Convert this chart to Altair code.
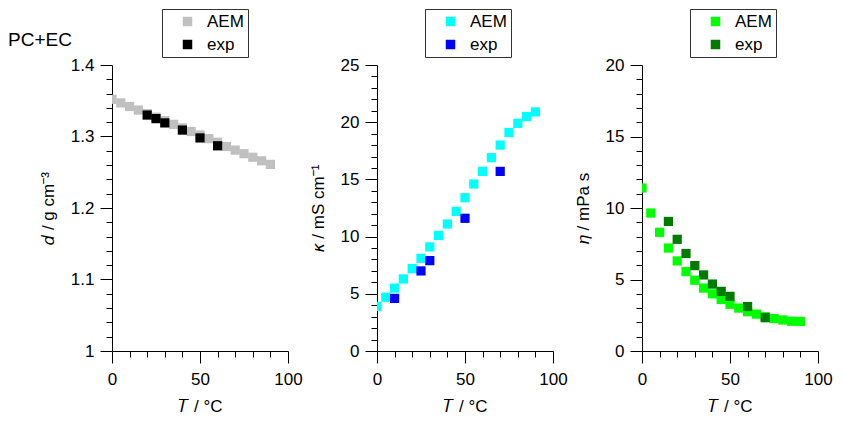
import altair as alt
import pandas as pd

# ---------------- data ----------------
T_aem = [0, 5, 10, 15, 20, 25, 30, 35, 40, 45, 50, 55, 60, 65, 70, 75, 80, 85, 90]
d_aem = [1.352, 1.347, 1.342, 1.337, 1.332, 1.327, 1.322, 1.317, 1.312, 1.307,
         1.302, 1.297, 1.292, 1.286, 1.281, 1.276, 1.271, 1.266, 1.261]
T_d_exp = [20, 25, 30, 40, 50, 60]
d_exp = [1.330, 1.325, 1.319, 1.309, 1.298, 1.287]

k_aem = [3.9, 4.7, 5.5, 6.3, 7.2, 8.1, 9.1, 10.1, 11.1, 12.2,
         13.4, 14.6, 15.7, 16.9, 18.0, 19.1, 19.9, 20.5, 20.9]
T_k_exp = [10, 25, 30, 50, 70]
k_exp = [4.6, 7.0, 7.9, 11.6, 15.7]

eta_aem = [11.4, 9.65, 8.3, 7.2, 6.3, 5.55, 4.95, 4.4, 4.0, 3.6,
           3.27, 3.0, 2.75, 2.58, 2.4, 2.27, 2.17, 2.08, 2.07]
T_eta_exp = [15, 20, 25, 30, 35, 40, 45, 50, 60, 70]
eta_exp = [9.06, 7.81, 6.82, 5.97, 5.32, 4.68, 4.17, 3.82, 3.11, 2.33]

series = ["AEM", "exp"]
x_ticks = [0, 10, 20, 30, 40, 50, 60, 70, 80, 90, 100]
d_ticks = [1.0, 1.02, 1.04, 1.06, 1.08, 1.1, 1.12, 1.14, 1.16, 1.18, 1.2,
           1.22, 1.24, 1.26, 1.28, 1.3, 1.32, 1.34, 1.36, 1.38, 1.4]
k_ticks = list(range(0, 26))
eta_ticks = list(range(0, 21))

FONT = "Liberation Sans"
W, H = 176, 286


def frame(T1, v1, T2, v2):
    return pd.DataFrame({
        "T": list(T1) + list(T2),
        "v": list(v1) + list(v2),
        "s": [series[0]] * len(T1) + [series[1]] * len(T2),
    })


x_axis = alt.Axis(
    values=x_ticks,
    labelExpr="datum.value % 50 === 0 ? datum.label : ''",
    tickSize={"condition": {"test": "datum.value % 50 === 0", "value": 12}, "value": 6},
    labelFlush=False, labelOverlap=False, grid=False,
    title="𝑇 / °C", labelPadding=8, titlePadding=11,
)


def panel(df, domain, ticks, major_test, label_fmt, ytitle, colors, legx, tpad):
    y_axis = alt.Axis(
        values=ticks,
        labelExpr=f"({major_test}) ? format(datum.value, '{label_fmt}') : ''",
        tickSize={"condition": {"test": major_test, "value": 12}, "value": 6},
        labelOverlap=False, grid=False, title=ytitle,
        labelPadding=6, titlePadding=tpad,
    )
    return alt.Chart(df).mark_square(size=85, opacity=1, clip=True).encode(
        x=alt.X("T:Q", scale=alt.Scale(domain=[0, 100], nice=False), axis=x_axis),
        y=alt.Y("v:Q", scale=alt.Scale(domain=domain, nice=False, zero=False), axis=y_axis),
        color=alt.Color(
            "s:N",
            scale=alt.Scale(domain=series, range=colors),
            legend=alt.Legend(
                orient="none", legendX=legx, legendY=-56, title=None,
                direction="vertical",
                strokeColor="#333333", fillColor="white", padding=4,
                symbolType="square", symbolSize=90, symbolOpacity=1,
                symbolStrokeWidth=0,
                symbolOffset=13, labelOffset=11, rowPadding=5,
                labelFontSize=17, labelFont=FONT, labelColor="black",
            ),
        ),
    ).properties(width=W, height=H)


p1 = panel(frame(T_aem, d_aem, T_d_exp, d_exp), [1.0, 1.4], d_ticks,
           "abs(datum.value*10 - round(datum.value*10)) < 0.000001", ".1~f",
           "𝑑 / g cm⁻³", ["#c0c0c0", "#000000"], 50, 13)

label_df = pd.DataFrame({"t": ["PC+EC"]})
pc_text = alt.Chart(label_df).mark_text(
    align="left", baseline="middle", fontSize=19, font=FONT, color="black"
).encode(text="t:N", x=alt.value(-104), y=alt.value(-25))
p1 = alt.layer(p1, pc_text)

p2 = panel(frame(T_aem, k_aem, T_k_exp, k_exp), [0, 25], k_ticks,
           "datum.value % 5 === 0", "d",
           "𝜅 / mS cm⁻¹", ["#00ffff", "#0000ff"], 48, 13)
p3 = panel(frame(T_aem, eta_aem, T_eta_exp, eta_exp), [0, 20], eta_ticks,
           "datum.value % 5 === 0", "d",
           "𝜂 / mPa s", ["#00ff00", "#007a00"], 48, 13)

chart = alt.hconcat(p1, p2, p3, spacing=89, bounds="flush").resolve_scale(
    color="independent"
).properties(
    padding={"left": 0, "top": 0, "right": 0, "bottom": 0}
).configure_view(stroke=None).configure_axis(
    domainColor="black", tickColor="black", domainWidth=1, tickWidth=1,
    labelFont=FONT, titleFont=FONT, labelFontSize=17, titleFontSize=17,
    titleFontWeight="normal", labelColor="black", titleColor="black",
)

chart.save("out.html", embed_options={"renderer": "svg", "actions": False})
